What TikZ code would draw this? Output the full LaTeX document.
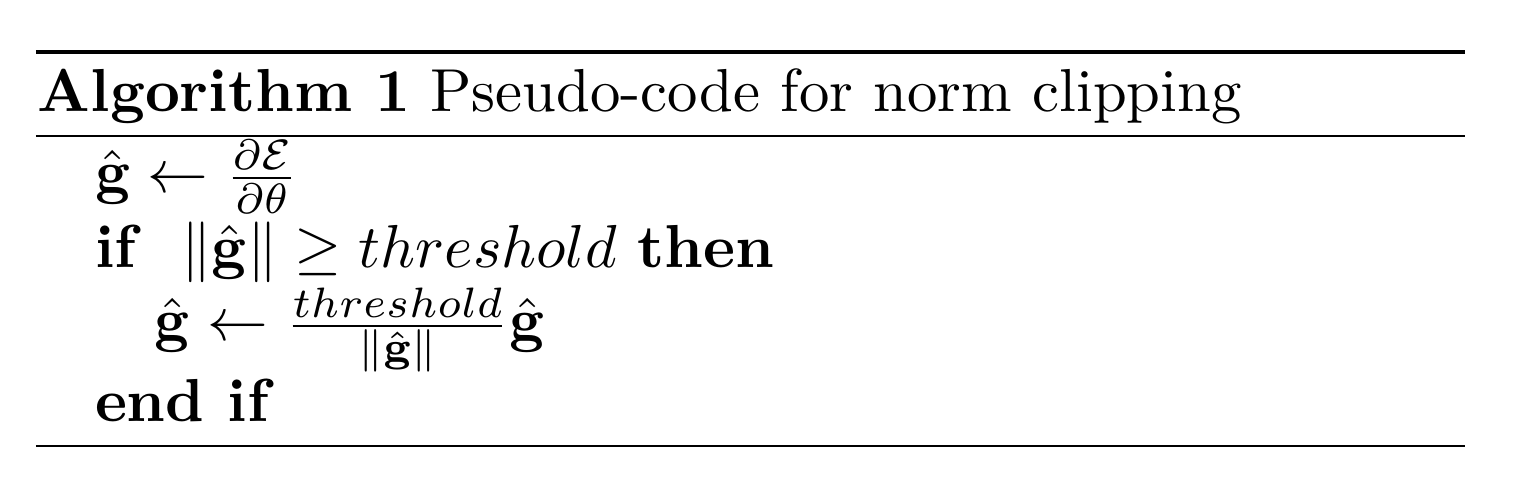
\documentclass[tikz,border=0pt]{standalone}
\usepackage{amsmath,amssymb}
\begin{document}
\begin{tikzpicture}[x=0.1647pt,y=-0.1647pt,
  txt/.style={anchor=base west,inner sep=0pt,outer sep=0pt}]
\useasboundingbox (0,0) rectangle (1518,480);
\coordinate (tl) at (36,52); \coordinate (tr) at (1465,52);
\coordinate (ml) at (36,136); \coordinate (mr) at (1465,136);
\coordinate (bl) at (36,446); \coordinate (br) at (1465,446);
\draw[line width=0.8pt] (tl) -- (tr);
\draw[line width=0.4pt] (ml) -- (mr);
\draw[line width=0.4pt] (bl) -- (br);
\node[txt] (cap) at (38,112) {\textbf{Algorithm 1} Pseudo-code for norm clipping};
\node[txt] (l1) at (95,193) {$\hat{\mathbf{g}} \leftarrow \frac{\partial \mathcal{E}}{\partial \theta}$};
\node[txt] (l2) at (95,268) {\textbf{if}\ \ $\|\hat{\mathbf{g}}\| \geq threshold$ \textbf{then}};
\node[txt] (l3) at (155,341) {$\hat{\mathbf{g}} \leftarrow \frac{threshold}{\|\hat{\mathbf{g}}\|}\hat{\mathbf{g}}$};
\node[txt] (l4) at (95,422) {\textbf{end if}};
\end{tikzpicture}
\end{document}
